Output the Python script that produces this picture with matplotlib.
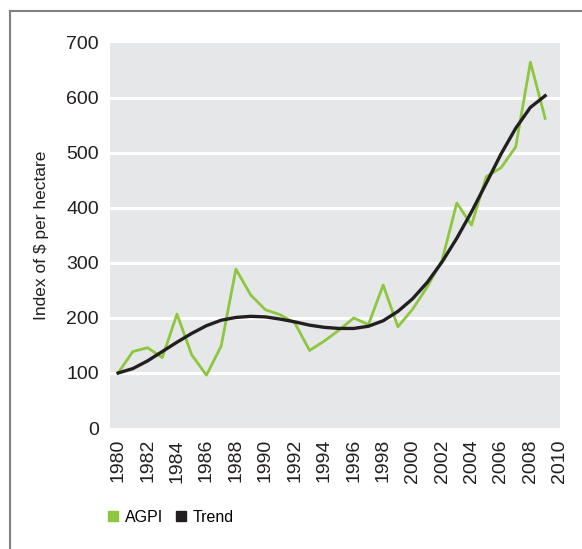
import matplotlib
matplotlib.use('Agg')
import matplotlib.pyplot as plt
from matplotlib.lines import Line2D
from matplotlib.patches import Patch

years = list(range(1980, 2010))
agpi = [100, 139, 146, 128, 207, 133, 96, 149, 289, 242,
        215, 206, 191, 141, 158, 178, 200, 188, 260, 184,
        216, 257, 305, 409, 369, 457, 473, 511, 665, 563]
trend = [100, 108, 122, 139, 156, 172, 186, 196, 201, 203,
         202, 198, 193, 187, 183, 181, 181, 185, 195, 212,
         235, 265, 302, 345, 393, 445, 498, 545, 583, 604]
xticks = list(range(1980, 2011, 2))
yticks = list(range(0, 701, 100))

plt.rcParams['font.family'] = ['Liberation Sans Narrow', 'DejaVu Sans Condensed',
                               'Liberation Sans']

fig = plt.figure(figsize=(5.82, 5.49), dpi=100)
ax = fig.add_axes([0.189, 0.2204, 0.773, 0.7013])
ax.set_facecolor('#e6e7e9')

for y in yticks[1:-1]:
    ax.axhline(y, color='white', lw=2.2, zorder=1)

ax.plot(years, agpi, color='#8dc63f', lw=2.0, zorder=3)
ax.plot(years, trend, color='#231f20', lw=2.4, zorder=4)

ax.set_xlim(1979.45, 2010)
ax.set_ylim(0, 700)
ax.set_xticks(xticks)
ax.set_xticklabels([str(t) for t in xticks], rotation=90)
ax.set_yticks(yticks)
ax.tick_params(length=0, labelsize=14, colors='#231f20', pad=8)
for s in ax.spines.values():
    s.set_visible(False)
ax.set_ylabel('Index of $ per hectare', fontsize=12.5, color='#231f20',
              labelpad=12)

# legend
handles = [Patch(color='#8dc63f', label='AGPI'),
           Patch(color='#231f20', label='Trend')]
fig.legend(handles=handles, loc='center left', bbox_to_anchor=(0.161, 0.058),
           ncol=2, frameon=False, fontsize=11.5, handlelength=0.65,
           handleheight=0.65, handletextpad=0.4, columnspacing=0.8)

# frame around the figure
fig.add_artist(Line2D([0.017, 0.017], [0.0, 0.98], color='#808080', lw=1.5))
fig.add_artist(Line2D([0.017, 1.0], [0.98, 0.98], color='#808080', lw=1.5))

fig.savefig('out.png', dpi=100)
